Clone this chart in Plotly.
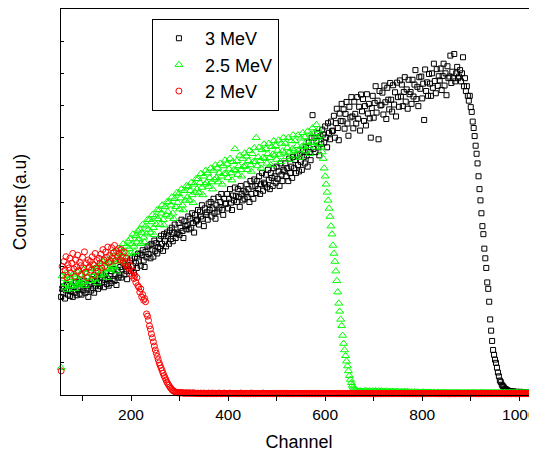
import plotly.graph_objects as go

# spectra, one value every 2 channels (56 .. 1028)
channel = list(range(56, 1029, 2))

counts_3mev = [
    305, 330, 318, 338, 300, 325, 342, 312, 328, 308,
    322, 340, 305, 335, 318, 348, 310, 330, 352, 315,
    335, 312, 345, 325, 355, 318, 340, 328, 305, 350,
    345, 325, 360, 332, 318, 355, 340, 368, 330, 348,
    338, 365, 350, 372, 335, 358, 380, 345, 362, 340,
    370, 348, 385, 360, 392, 355, 375, 342, 388, 365,
    372, 398, 365, 390, 410, 375, 402, 385, 360, 405,
    392, 418, 385, 425, 400, 380, 430, 410, 395, 438,
    415, 440, 402, 435, 450, 418, 398, 445, 428, 462,
    438, 465, 425, 470, 452, 430, 480, 448, 472, 440,
    460, 485, 455, 495, 470, 448, 500, 478, 462, 505,
    495, 470, 512, 485, 520, 478, 505, 530, 488, 500,
    505, 535, 498, 520, 545, 510, 488, 540, 525, 515,
    528, 555, 515, 548, 520, 565, 535, 505, 560, 540,
    545, 575, 530, 570, 555, 590, 548, 525, 580, 560,
    568, 545, 595, 575, 600, 555, 580, 610, 565, 548,
    590, 570, 615, 580, 600, 625, 575, 560, 610, 595,
    595, 625, 580, 610, 640, 598, 575, 620, 605, 645,
    618, 600, 640, 615, 585, 650, 625, 605, 635, 610,
    630, 655, 615, 640, 600, 665, 625, 648, 610, 670,
    650, 628, 665, 640, 680, 625, 655, 690, 635, 660,
    655, 685, 645, 700, 668, 640, 690, 675, 650, 705,
    680, 660, 710, 672, 695, 650, 720, 685, 665, 700,
    695, 720, 680, 705, 665, 735, 690, 710, 675, 740,
    705, 730, 690, 745, 715, 695, 750, 725, 700, 760,
    740, 720, 770, 745, 710, 785, 755, 730, 800, 870,
    765, 800, 755, 790, 815, 770, 745, 805, 780, 825,
    810, 785, 835, 800, 770, 845, 815, 795, 850, 820,
    822, 868, 800, 845, 890, 830, 792, 875, 852, 905,
    851, 888, 828, 874, 911, 844, 806, 896, 863, 926,
    866, 829, 912, 874, 844, 926, 859, 896, 822, 934,
    882, 920, 852, 898, 838, 935, 875, 905, 860, 800,
    892, 930, 862, 908, 960, 878, 915, 795, 945, 900,
    902, 940, 872, 962, 910, 858, 955, 918, 888, 970,
    918, 881, 963, 903, 941, 866, 971, 926, 896, 978,
    928, 965, 898, 942, 988, 912, 950, 890, 980, 935,
    942, 905, 980, 928, 965, 1010, 920, 958, 898, 988,
    952, 990, 922, 968, 855, 1012, 945, 972, 930, 998,
    968, 930, 1000, 955, 1030, 976, 938, 1013, 961, 991,
    978, 1015, 948, 992, 1030, 962, 1000, 932, 1022, 985,
    990, 1055, 970, 1005, 985, 1060, 975, 1000, 1020, 985,
    990, 1010, 975, 1000, 1050, 960, 985, 945, 960, 930,
    915, 930, 895, 880, 850, 830, 805, 775, 750, 720,
    680, 640, 605, 565, 525, 500, 455, 425, 395, 350,
    330, 290, 235, 200, 168, 140, 125, 110, 100, 85,
    70, 58, 45, 40, 32, 28, 24, 20, 18, 16,
    14, 13, 12, 12, 11, 10, 11, 10, 9, 10,
    9, 8, 9, 10, 8, 9, 8, 9, 8, 9,
    8, 9, 7, 8, 9, 7, 8,
]

counts_2_5mev = [
    85, 370, 335, 362, 345, 380, 328, 358, 372, 340,
    365, 338, 375, 350, 330, 368, 385, 342, 360, 348,
    345, 372, 360, 390, 352, 340, 378, 365, 395, 355,
    380, 355, 392, 370, 405, 360, 385, 348, 398, 375,
    372, 400, 385, 415, 378, 420, 395, 365, 410, 392,
    410, 390, 430, 402, 445, 398, 420, 385, 440, 415,
    425, 455, 418, 445, 470, 430, 410, 462, 440, 478,
    455, 485, 440, 470, 500, 462, 445, 495, 475, 510,
    485, 515, 470, 505, 530, 490, 475, 525, 500, 545,
    515, 545, 505, 538, 560, 520, 498, 555, 530, 575,
    548, 575, 530, 565, 590, 545, 528, 585, 560, 600,
    570, 600, 555, 590, 615, 565, 548, 610, 585, 628,
    598, 625, 578, 612, 640, 590, 575, 635, 605, 650,
    615, 648, 605, 635, 660, 622, 598, 655, 630, 672,
    640, 672, 628, 660, 688, 645, 622, 680, 655, 698,
    660, 690, 648, 675, 705, 662, 640, 698, 670, 715,
    675, 705, 662, 690, 720, 680, 655, 712, 688, 730,
    688, 718, 675, 702, 735, 690, 668, 725, 700, 765,
    698, 728, 685, 712, 745, 700, 680, 735, 710, 752,
    712, 742, 700, 728, 760, 715, 695, 750, 725, 768,
    725, 800, 712, 740, 770, 728, 705, 762, 738, 780,
    735, 765, 720, 750, 782, 738, 715, 772, 748, 790,
    745, 775, 732, 760, 792, 748, 725, 782, 758, 800,
    752, 782, 740, 768, 800, 755, 732, 790, 765, 808,
    760, 790, 745, 775, 808, 762, 738, 798, 772, 815,
    772, 802, 758, 788, 820, 775, 750, 810, 785, 830,
    785, 815, 770, 840, 800, 825, 780, 805, 770, 755,
    735, 705, 680, 655, 630, 605, 580, 555, 525, 500,
    465, 440, 415, 385, 355, 320, 285, 260, 235, 215,
    185, 160, 140, 122, 105, 90, 75, 60, 48, 38,
    30, 24, 19, 16, 14, 12, 11, 10, 12, 10,
    11, 9, 12, 10, 13, 9, 11, 10, 12, 9,
    10, 12, 9, 11, 13, 10, 9, 12, 10, 11,
    12, 10, 9, 11, 10, 12, 9, 10, 11, 9,
    10, 9, 11, 8, 10, 9, 11, 10, 8, 9,
    9, 10, 8, 9, 11, 8, 9, 10, 8, 9,
    8, 9, 7, 8, 9, 8, 7, 9, 8, 7,
    8, 7, 8, 9, 7, 8, 7, 8, 7, 8,
    7, 8, 7, 6, 8, 7, 6, 7, 8, 7,
    6, 7, 6, 7, 8, 6, 7, 6, 7, 6,
    7, 6, 7, 6, 6, 7, 6, 7, 6, 7,
    6, 7, 6, 6, 7, 6, 7, 6, 6, 7,
    7, 6, 6, 7, 6, 7, 6, 6, 7, 6,
    6, 6, 7, 6, 7, 6, 6, 7, 6, 6,
    7, 6, 6, 7, 6, 6, 7, 6, 6, 7,
    6, 7, 6, 6, 7, 6, 6, 7, 6, 6,
    6, 6, 7, 6, 6, 7, 6, 6, 7, 6,
    7, 6, 6, 7, 6, 6, 7, 6, 6, 7,
    6, 7, 6, 6, 7, 6, 6,
]

counts_2mev = [
    75, 400, 372, 415, 388, 430, 365, 405, 395, 425,
    380, 410, 440, 392, 368, 420, 398, 435, 385, 412,
    402, 375, 428, 395, 445, 382, 410, 365, 420, 398,
    415, 388, 430, 405, 372, 440, 395, 418, 385, 425,
    410, 438, 395, 452, 420, 400, 445, 428, 460, 412,
    435, 415, 458, 425, 442, 465, 418, 448, 430, 455,
    440, 420, 452, 428, 415, 445, 408, 425, 398, 415,
    392, 378, 400, 370, 385, 362, 372, 350, 365, 340,
    335, 320, 330, 305, 312, 295, 300, 290, 252, 245,
    232, 215, 205, 190, 178, 165, 152, 140, 130, 120,
    110, 100, 92, 84, 76, 68, 60, 54, 47, 40,
    35, 30, 25, 21, 17, 14, 12, 10, 9, 8,
    7, 8, 6, 7, 8, 6, 7, 5, 6, 7,
    6, 5, 7, 6, 5, 6, 7, 5, 6, 5,
    5, 6, 5, 4, 6, 5, 4, 6, 5, 4,
    5, 4, 6, 5, 4, 5, 6, 4, 5, 5,
    4, 5, 5, 6, 4, 5, 4, 5, 6, 4,
    5, 4, 5, 4, 6, 5, 4, 5, 4, 5,
    4, 5, 4, 5, 4, 6, 5, 4, 5, 4,
    5, 4, 5, 4, 5, 4, 6, 5, 4, 5,
    4, 5, 4, 5, 5, 4, 5, 4, 6, 4,
    5, 4, 4, 5, 4, 5, 4, 5, 4, 5,
    4, 5, 4, 4, 5, 4, 5, 4, 5, 4,
    5, 4, 5, 4, 4, 5, 4, 5, 4, 4,
    4, 5, 4, 5, 4, 4, 5, 4, 4, 5,
    4, 4, 5, 4, 5, 4, 4, 5, 4, 4,
    5, 4, 4, 5, 4, 4, 5, 4, 4, 5,
    4, 5, 4, 4, 5, 4, 4, 5, 4, 4,
    4, 4, 5, 4, 4, 5, 4, 4, 5, 4,
    5, 4, 4, 5, 4, 5, 4, 4, 5, 4,
    4, 5, 4, 4, 5, 4, 5, 4, 4, 5,
    4, 4, 5, 4, 4, 5, 4, 5, 4, 4,
    5, 4, 5, 4, 4, 5, 4, 4, 5, 4,
    4, 5, 4, 5, 4, 4, 5, 4, 4, 5,
    4, 4, 5, 4, 5, 4, 4, 5, 4, 4,
    5, 4, 4, 5, 4, 4, 5, 4, 5, 4,
    4, 5, 4, 4, 5, 4, 4, 5, 4, 5,
    4, 4, 5, 4, 4, 5, 4, 4, 5, 4,
    5, 4, 4, 5, 4, 5, 4, 4, 5, 4,
    4, 5, 4, 4, 5, 4, 4, 5, 4, 4,
    4, 4, 5, 4, 5, 4, 4, 5, 4, 5,
    5, 4, 4, 5, 4, 4, 5, 4, 4, 5,
    4, 5, 4, 4, 5, 4, 5, 4, 4, 5,
    4, 4, 5, 4, 4, 5, 4, 4, 5, 4,
    5, 4, 4, 5, 4, 4, 5, 4, 5, 4,
    4, 5, 4, 5, 4, 4, 5, 4, 4, 5,
    4, 4, 5, 4, 4, 5, 4, 5, 4, 4,
    5, 4, 4, 5, 4, 4, 5, 4, 4, 5,
    4, 5, 4, 4, 5, 4, 4,
]

x_tick_vals = [100, 200, 300, 400, 500, 600, 700, 800, 900, 1000]
x_tick_text = ["", "200", "", "400", "", "600", "", "800", "", "1000"]
top_tick_vals = [155, 255, 355, 455, 555, 655, 755, 855, 955]

assert len(counts_3mev) == len(channel), len(counts_3mev)
assert len(counts_2_5mev) == len(channel), len(counts_2_5mev)
assert len(counts_2mev) == len(channel), len(counts_2mev)

FONT = "Liberation Sans, Arial, sans-serif"

fig = go.Figure()
fig.add_trace(go.Scatter(
    x=channel, y=counts_3mev, mode="markers", name="3 MeV", cliponaxis=False,
    marker=dict(symbol="square-open", size=5, color="black", line=dict(width=1)),
))
fig.add_trace(go.Scatter(
    x=channel, y=counts_2_5mev, mode="markers", name="2.5 MeV", cliponaxis=False,
    marker=dict(symbol="triangle-up-open", size=7, color="#00ff00", line=dict(width=1)),
))
fig.add_trace(go.Scatter(
    x=channel, y=counts_2mev, mode="markers", name="2 MeV", cliponaxis=False,
    marker=dict(symbol="circle-open", size=6, color="#ff0000", line=dict(width=1)),
))

# the page body adds an 8px offset, so the figure is 8px smaller each way
fig.update_layout(
    width=529,
    height=444,
    margin=dict(l=53, r=0, t=1, b=57),
    paper_bgcolor="white",
    plot_bgcolor="white",
    font=dict(family=FONT, color="black"),
    showlegend=True,
    legend=dict(
        x=0.191, y=0.974, xanchor="left", yanchor="top",
        bgcolor="white", bordercolor="black", borderwidth=1,
        itemwidth=42,
        font=dict(family=FONT, size=18, color="black"),
    ),
    xaxis=dict(
        range=[55.7, 1036.5],
        showline=True, linecolor="black", linewidth=1, mirror=True,
        showgrid=False, zeroline=False,
        ticks="outside", ticklen=5, tickcolor="black",
        tickvals=x_tick_vals, ticktext=x_tick_text,
        tickfont=dict(family=FONT, size=15.5),
        title=dict(text="Channel", font=dict(family=FONT, size=18), standoff=13),
    ),
    xaxis2=dict(
        overlaying="x", side="top", range=[55.7, 1036.5],
        showline=False, showgrid=False, zeroline=False,
        ticks="inside", ticklen=2, tickcolor="black",
        tickvals=top_tick_vals, showticklabels=False,
    ),
    yaxis=dict(
        range=[0, 1200],
        showline=True, linecolor="black", linewidth=1,
        showgrid=False, zeroline=False,
        ticks="inside", ticklen=3, tickcolor="black",
        dtick=100, showticklabels=False,
        title=dict(text="Counts (a.u)", font=dict(family=FONT, size=17.5), standoff=28),
    ),
)

fig.write_html("out.html")
